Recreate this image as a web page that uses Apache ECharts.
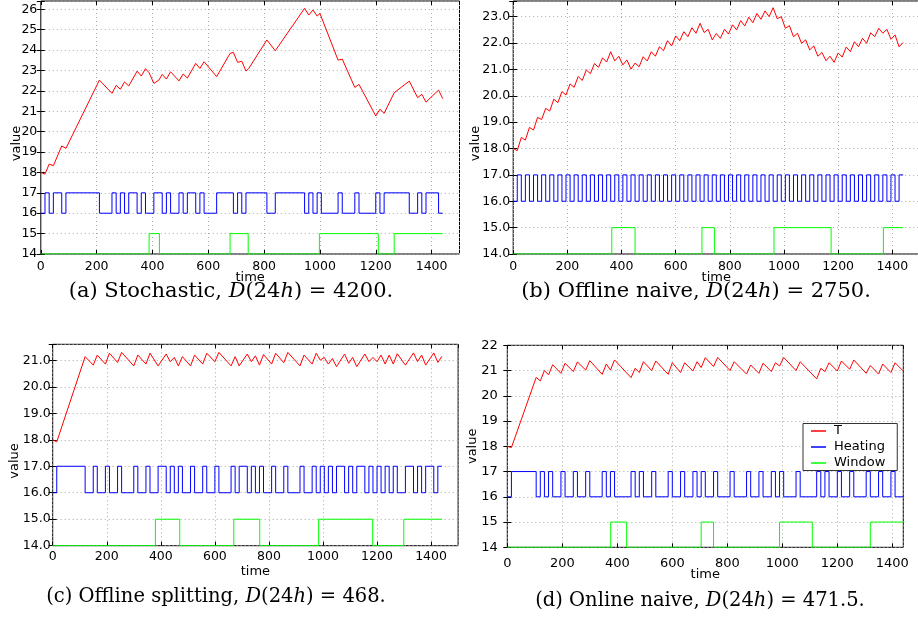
<!DOCTYPE html>
<html>
<head>
<meta charset="utf-8">
<script src="https://cdn.jsdelivr.net/npm/echarts@6/dist/echarts.min.js"></script>
<style>
html,body{margin:0;padding:0;background:#fff;}
#chart{width:918px;height:619px;}
</style>
</head>
<body>
<div id="chart"></div>
<script>
// ---------- tick labels ----------
const xTicks = [0, 200, 400, 600, 800, 1000, 1200, 1400];
const xTickLabels = ['0', '200', '400', '600', '800', '1000', '1200', '1400'];
const yTicksA = [14, 15, 16, 17, 18, 19, 20, 21, 22, 23, 24, 25, 26];
const yLabelsA = ['14', '15', '16', '17', '18', '19', '20', '21', '22', '23', '24', '25', '26'];
const yTicksB = [14, 15, 16, 17, 18, 19, 20, 21, 22, 23];
const yLabelsB = ['14.0', '15.0', '16.0', '17.0', '18.0', '19.0', '20.0', '21.0', '22.0', '23.0'];
const yTicksC = [14, 15, 16, 17, 18, 19, 20, 21];
const yLabelsC = ['14.0', '15.0', '16.0', '17.0', '18.0', '19.0', '20.0', '21.0'];
const yTicksD = [14, 15, 16, 17, 18, 19, 20, 21, 22];
const yLabelsD = ['14', '15', '16', '17', '18', '19', '20', '21', '22'];

const seriesNames = ['T', 'Heating', 'Window'];
const captions = [
  '(a) Stochastic, {i|D}(24{i|h}) = 4200.',
  '(b) Offline naive, {i|D}(24{i|h}) = 2750.',
  '(c) Offline splitting, {i|D}(24{i|h}) = 468.',
  '(d) Online naive, {i|D}(24{i|h}) = 471.5.'
];
const timeEnd = 1440;

// ---------- (a) Stochastic ----------
const tTimesA = [0, 15, 30, 45, 75, 90, 210, 255, 270, 285, 300, 315, 345, 360, 375, 388, 405, 423, 435, 450, 465, 495, 510, 525, 555, 570, 585, 630, 678, 690, 705, 720, 735, 745, 810, 840, 945, 960, 975, 990, 1000, 1065, 1080, 1125, 1140, 1200, 1215, 1230, 1266, 1320, 1350, 1365, 1380, 1425, 1440];
const tValsA = [18.0, 17.92, 18.41, 18.33, 19.3, 19.18, 22.53, 21.88, 22.27, 22.08, 22.44, 22.24, 22.97, 22.73, 23.09, 22.89, 22.37, 22.53, 22.81, 22.58, 22.94, 22.49, 22.83, 22.63, 23.35, 23.1, 23.43, 22.7, 23.84, 23.89, 23.4, 23.46, 22.97, 23.1, 24.5, 23.97, 26.05, 25.72, 25.97, 25.67, 25.8, 23.51, 23.56, 22.17, 22.32, 20.77, 21.1, 20.9, 21.91, 22.48, 21.67, 21.83, 21.45, 22.04, 21.62];
const heatStartA = 16;
const heatTogglesA = [15, 30, 45, 75, 90, 210, 255, 270, 285, 300, 315, 345, 360, 375, 405, 435, 450, 465, 495, 510, 525, 555, 570, 585, 630, 690, 705, 720, 735, 810, 840, 945, 960, 975, 990, 1005, 1065, 1080, 1125, 1140, 1200, 1215, 1230, 1320, 1350, 1365, 1380, 1425];
const winStartA = 14;
const winTogglesA = [388, 425, 678, 743, 998, 1209, 1266];

// ---------- (b) Offline naive ----------
const tTimesB = [0, 15, 30, 45, 60, 75, 90, 105, 120, 135, 150, 165, 180, 195, 210, 225, 240, 255, 270, 285, 300, 315, 330, 345, 360, 375, 390, 405, 420, 435, 450, 465, 480, 495, 510, 525, 540, 555, 570, 585, 600, 615, 630, 645, 660, 675, 690, 705, 720, 735, 750, 765, 780, 795, 810, 825, 840, 855, 870, 885, 900, 915, 930, 945, 960, 975, 990, 1005, 1020, 1035, 1050, 1065, 1080, 1095, 1110, 1125, 1140, 1155, 1170, 1185, 1200, 1215, 1230, 1245, 1260, 1275, 1290, 1305, 1320, 1335, 1350, 1365, 1380, 1395, 1410, 1425, 1440];
const tValsB = [18.0, 17.92, 18.42, 18.32, 18.8, 18.7, 19.18, 19.1, 19.52, 19.42, 19.87, 19.74, 20.16, 20.03, 20.45, 20.32, 20.73, 20.58, 20.98, 20.84, 21.22, 21.08, 21.44, 21.28, 21.67, 21.32, 21.5, 21.17, 21.36, 21.01, 21.24, 21.1, 21.48, 21.32, 21.67, 21.5, 21.86, 21.71, 22.09, 21.89, 22.27, 22.09, 22.43, 22.24, 22.58, 22.37, 22.75, 22.4, 22.52, 22.12, 22.36, 22.18, 22.52, 22.34, 22.69, 22.5, 22.85, 22.65, 22.98, 22.77, 23.12, 22.9, 23.22, 23.0, 23.34, 22.92, 23.0, 22.56, 22.66, 22.24, 22.37, 21.99, 22.12, 21.74, 21.89, 21.5, 21.64, 21.33, 21.5, 21.27, 21.62, 21.47, 21.85, 21.67, 22.05, 21.86, 22.18, 21.99, 22.39, 22.24, 22.56, 22.37, 22.52, 22.14, 22.31, 21.86, 22.02];
const heatStartB = 16;
const heatTogglesB = [15, 30, 45, 60, 75, 90, 105, 120, 135, 150, 165, 180, 195, 210, 225, 240, 255, 270, 285, 300, 315, 330, 345, 360, 375, 390, 405, 420, 435, 450, 465, 480, 495, 510, 525, 540, 555, 570, 585, 600, 615, 630, 645, 660, 675, 690, 705, 720, 735, 750, 765, 780, 795, 810, 825, 840, 855, 870, 885, 900, 915, 930, 945, 960, 975, 990, 1005, 1020, 1035, 1050, 1065, 1080, 1095, 1110, 1125, 1140, 1155, 1170, 1185, 1200, 1215, 1230, 1245, 1260, 1275, 1290, 1305, 1320, 1335, 1350, 1365, 1380, 1395, 1410, 1425];
const winStartB = 14;
const winTogglesB = [364, 450, 697, 743, 963, 1174, 1367];

// ---------- (c) Offline splitting ----------
const tTimesC = [0, 15, 120, 150, 165, 195, 210, 240, 255, 300, 315, 345, 360, 390, 420, 435, 450, 465, 480, 510, 525, 555, 570, 600, 615, 660, 675, 690, 720, 735, 750, 765, 780, 810, 825, 855, 870, 915, 930, 960, 975, 990, 1005, 1020, 1035, 1050, 1080, 1095, 1110, 1125, 1155, 1170, 1185, 1200, 1215, 1230, 1245, 1260, 1275, 1305, 1335, 1350, 1365, 1380, 1410, 1425, 1440];
const tValsC = [18.0, 17.92, 21.14, 20.82, 21.2, 20.86, 21.27, 20.92, 21.3, 20.79, 21.2, 20.86, 21.27, 20.79, 21.24, 20.95, 21.11, 20.79, 21.14, 20.79, 21.2, 20.86, 21.27, 20.95, 21.3, 20.79, 21.14, 20.79, 21.24, 20.95, 21.17, 20.82, 21.22, 20.86, 21.27, 20.91, 21.3, 20.79, 21.2, 20.86, 21.27, 21.01, 21.11, 20.86, 21.07, 20.76, 21.24, 20.89, 21.11, 20.76, 21.24, 20.95, 21.11, 20.95, 21.2, 20.86, 21.2, 20.86, 21.25, 20.82, 21.28, 20.95, 21.2, 20.82, 21.28, 20.92, 21.15];
const heatStartC = 16;
const heatTogglesC = [15, 120, 150, 165, 195, 210, 240, 255, 300, 315, 345, 360, 390, 420, 435, 450, 465, 480, 510, 525, 555, 570, 600, 615, 660, 675, 690, 720, 735, 750, 765, 780, 810, 825, 855, 870, 915, 930, 960, 975, 990, 1005, 1020, 1035, 1050, 1080, 1095, 1110, 1125, 1155, 1170, 1185, 1200, 1215, 1230, 1245, 1260, 1275, 1305, 1335, 1350, 1365, 1380, 1410, 1425];
const winStartC = 14;
const winTogglesC = [380, 470, 670, 766, 984, 1184, 1299];

// ---------- (d) Online naive ----------
const tTimesD = [0, 15, 105, 120, 135, 150, 165, 195, 210, 240, 255, 285, 300, 345, 360, 375, 390, 450, 465, 480, 495, 525, 540, 585, 600, 630, 645, 675, 690, 705, 720, 750, 765, 810, 825, 870, 885, 915, 930, 960, 975, 990, 1005, 1050, 1065, 1125, 1140, 1155, 1170, 1200, 1215, 1245, 1260, 1305, 1320, 1350, 1365, 1395, 1410, 1440];
const tValsD = [18.0, 17.95, 20.73, 20.59, 21.0, 20.83, 21.23, 20.89, 21.29, 20.96, 21.34, 21.02, 21.39, 20.85, 21.26, 21.02, 21.42, 20.72, 21.09, 20.92, 21.35, 21.0, 21.38, 20.85, 21.31, 20.92, 21.31, 20.98, 21.35, 21.12, 21.51, 21.16, 21.52, 21.0, 21.35, 20.86, 21.22, 20.89, 21.29, 20.96, 21.31, 21.18, 21.52, 21.0, 21.35, 20.67, 21.09, 20.96, 21.31, 20.98, 21.38, 21.05, 21.42, 20.89, 21.2, 20.86, 21.26, 20.92, 21.31, 20.98];
const heatStartD = 16;
const heatTogglesD = [15, 105, 120, 135, 150, 165, 195, 210, 240, 255, 285, 300, 345, 360, 375, 390, 450, 465, 480, 495, 525, 540, 585, 600, 630, 645, 675, 690, 705, 720, 750, 765, 810, 825, 870, 885, 915, 930, 960, 975, 990, 1005, 1050, 1065, 1125, 1140, 1155, 1170, 1200, 1215, 1245, 1260, 1305, 1320, 1350, 1365, 1395, 1410];
const winStartD = 14;
const winTogglesD = [376, 434, 705, 750, 990, 1109, 1320];

// ---------- helpers ----------
function zip(ts, vs) { return ts.map((t, i) => [t, vs[i]]); }
function steps(start, toggles, end) {
  const other = start + 1;
  let v = start;
  const pts = [[0, v]];
  toggles.forEach(t => {
    pts.push([t, v]);
    v = (v === start) ? other : start;
    pts.push([t, v]);
  });
  pts.push([end, v]);
  return pts;
}
function fmt(ticks, labels) {
  return function (val) {
    const r = Math.round(val * 1000) / 1000;
    const i = ticks.indexOf(r);
    return i >= 0 ? labels[i] : '';
  };
}

const panels = [
  { grid: { left: 40.8, top: 1, width: 418.7, height: 253 }, xMax: 1500, yMax: 26.41, fs: 12.5,
    yTicks: yTicksA, yLabels: yLabelsA, xMargin: 6, yMargin: 3.5, xNameGap: 17, yNameGap: 18, yShift: 16,
    T: zip(tTimesA, tValsA), H: steps(heatStartA, heatTogglesA, timeEnd), W: steps(winStartA, winTogglesA, timeEnd) },
  { grid: { left: 513.2, top: 1, width: 406.2, height: 253 }, xMax: 1500, yMax: 23.594, fs: 12.5,
    yTicks: yTicksB, yLabels: yLabelsB, xMargin: 6, yMargin: 3, xNameGap: 17, yNameGap: 31, yShift: 16,
    T: zip(tTimesB, tValsB), H: steps(heatStartB, heatTogglesB, timeEnd), W: steps(winStartB, winTogglesB, timeEnd) },
  { grid: { left: 52.7, top: 344.3, width: 405.4, height: 201.4 }, xMax: 1500, yMax: 21.606, fs: 12.5,
    yTicks: yTicksC, yLabels: yLabelsC, xMargin: 4.5, yMargin: 2, xNameGap: 19, yNameGap: 32, yShift: 16,
    T: zip(tTimesC, tValsC), H: steps(heatStartC, heatTogglesC, timeEnd), W: steps(winStartC, winTogglesC, timeEnd) },
  { grid: { left: 507.3, top: 345.3, width: 396, height: 202 }, xMax: 1440, yMax: 22, fs: 13,
    yTicks: yTicksD, yLabels: yLabelsD, xMargin: 9.5, yMargin: 9.5, xNameGap: 21, yNameGap: 28, yShift: 0,
    T: zip(tTimesD, tValsD), H: steps(heatStartD, heatTogglesD, timeEnd), W: steps(winStartD, winTogglesD, timeEnd) }
];

const FONT = 'DejaVu Sans';
const colors = { T: '#ff0000', Heating: '#0000ff', Window: '#00ff00' };
const tickStyle = { show: true, inside: true, length: 4, lineStyle: { color: '#000', width: 1 } };

const grids = [], xAxes = [], yAxes = [], series = [];
panels.forEach((p, i) => {
  grids.push(Object.assign({ show: true, borderColor: '#000', borderWidth: 1, backgroundColor: '#fff', containLabel: false, outerBoundsMode: 'none' }, p.grid));
  xAxes.push({
    type: 'value', gridIndex: i, position: 'bottom', min: 0, max: p.xMax, interval: 200,
    name: 'time', nameLocation: 'middle', nameGap: p.xNameGap, nameMoveOverlap: false,
    nameTextStyle: { fontFamily: FONT, fontSize: 13, color: '#000' },
    axisLine: { show: false },
    axisTick: tickStyle,
    axisLabel: { show: true, margin: p.xMargin, fontFamily: FONT, fontSize: p.fs, color: '#000', formatter: fmt(xTicks, xTickLabels), showMinLabel: true, showMaxLabel: false, hideOverlap: false },
    splitLine: { show: true, lineStyle: { color: '#aaaaaa', width: 1, type: [1, 3] } }
  });
  yAxes.push({
    type: 'value', gridIndex: i, position: 'left', min: 14, max: p.yMax, interval: 1,
    name: 'value', nameLocation: 'middle', nameGap: p.yNameGap, nameRotate: 90, nameMoveOverlap: false,
    nameTextStyle: { fontFamily: FONT, fontSize: 13, color: '#000', padding: [0, p.yShift * 2, 0, 0] },
    axisLine: { show: false },
    axisTick: tickStyle,
    axisLabel: { show: true, margin: p.yMargin, fontFamily: FONT, fontSize: p.fs, color: '#000', formatter: fmt(p.yTicks, p.yLabels), showMinLabel: true, showMaxLabel: true, hideOverlap: false },
    splitLine: { show: true, lineStyle: { color: '#aaaaaa', width: 1, type: [1, 3] } }
  });
  [['T', p.T], ['Heating', p.H], ['Window', p.W]].forEach(([name, data]) => {
    series.push({
      name: name, type: 'line', xAxisIndex: i, yAxisIndex: i, data: data,
      showSymbol: false, symbol: 'none', clip: true, silent: true,
      lineStyle: { color: colors[name], width: 1 }, itemStyle: { color: colors[name] },
      emphasis: { disabled: true }, animation: false
    });
  });
});
// mirrored tick marks on top and right edges (matplotlib box style)
panels.forEach((p, i) => {
  xAxes.push({
    type: 'value', gridIndex: i, position: 'top', min: 0, max: p.xMax, interval: 200,
    axisLine: { show: false }, axisTick: tickStyle, axisLabel: { show: false }, splitLine: { show: false }
  });
  yAxes.push({
    type: 'value', gridIndex: i, position: 'right', min: 14, max: p.yMax, interval: 1,
    axisLine: { show: false }, axisTick: tickStyle, axisLabel: { show: false }, splitLine: { show: false }
  });
});

const CAPFONT = 'DejaVu Serif';
const capPos = [[231, 292], [696, 292], [216, 597], [700, 601]];
const capSize = [21, 21, 19.5, 19.5];
const graphics = captions.map((c, i) => ({
  type: 'text', x: capPos[i][0], y: capPos[i][1], silent: true,
  style: {
    text: c, fill: '#000', fontFamily: CAPFONT, fontSize: capSize[i],
    align: 'center', verticalAlign: 'middle',
    rich: { i: { fontStyle: 'italic', fontFamily: CAPFONT, fontSize: capSize[i], fill: '#000' } }
  }
}));

const chart = echarts.init(document.getElementById('chart'), null, { renderer: 'canvas' });
chart.setOption({
  animation: false,
  backgroundColor: '#fff',
  grid: grids,
  xAxis: xAxes,
  yAxis: yAxes,
  series: series,
  legend: {
    data: seriesNames, orient: 'vertical', left: 803, top: 423.5,
    icon: 'rect', itemWidth: 15, itemHeight: 1.5, itemGap: 3,
    backgroundColor: '#fff', borderColor: '#333', borderWidth: 1, borderRadius: 0,
    padding: [1, 12, 1, 8],
    textStyle: { fontFamily: FONT, fontSize: 13, color: '#000', padding: [0, 0, 0, 3] },
    selectedMode: false
  },
  graphic: graphics
});
</script>
</body>
</html>
